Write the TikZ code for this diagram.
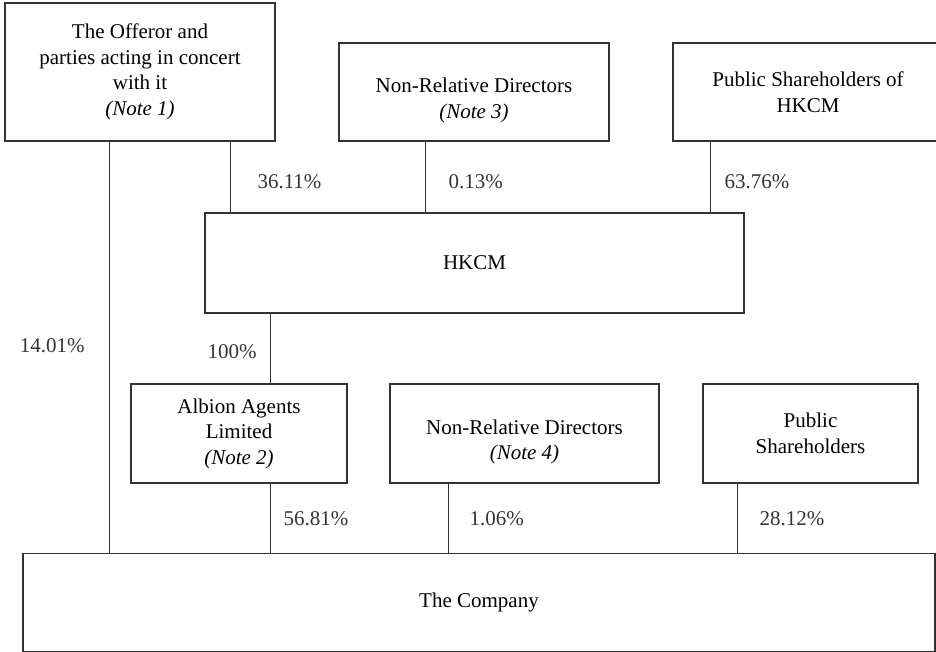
\documentclass[tikz,border=0pt]{standalone}
\usepackage{fontspec}
\setmainfont{Liberation Serif}
\usepackage{tikz}
\usetikzlibrary{positioning}
\colorlet{mydarkgray}{black!80}
\tikzset{
  holder/.style={draw=mydarkgray,line width=1.2pt,rectangle,align=center,inner sep=0pt,
                 font=\fontsize{21}{25.5}\selectfont},
  connect/.style={mydarkgray,line width=1pt},
  pct/.style={inner sep=0pt,font=\fontsize{21}{25.5}\selectfont}
}

\begin{document}
\begin{tikzpicture}[x=1pt,y=-1pt]
\useasboundingbox (0,0) rectangle (936,652);
\clip (0,0) rectangle (936,652);
% top row: shareholders of HKCM
\node[holder,minimum width=270,minimum height=138] (offeror) at (140,72)
  {The Offeror and\\parties acting in concert\\with it\\\textit{(Note 1)}};
\node[holder,minimum width=270,minimum height=98] (nrdhk) at (474,92) {};
\node[pct,align=center,below=-14pt of nrdhk.center] (nrdhk-text)
  {Non-Relative Directors\\\textit{(Note 3)}};
\node[holder,minimum width=270,minimum height=98] (pubhk) at (808,92)
  {Public Shareholders of\\HKCM};
% middle
\node[holder,minimum width=539,minimum height=100] (hkcm) at (474.5,263) {HKCM};
% second row: shareholders of the company
\node[holder,minimum width=216,minimum height=99] (albion) at (239,433.5)
  {Albion Agents\\Limited\\\textit{(Note 2)}};
\node[holder,minimum width=269,minimum height=99] (nrdco) at (524.5,433.5) {};
\node[pct,align=center,below=-14pt of nrdco.center] (nrdco-text)
  {Non-Relative Directors\\\textit{(Note 4)}};
\node[holder,minimum width=215,minimum height=99] (pubco) at (810.5,433.5)
  {Public\\Shareholders};
% bottom
\node[holder,minimum width=912,minimum height=98] (company) at (479,602.5) {The Company};
%
\draw[connect] (offeror.south -| 109,0) -- node[pct,left=24pt,pos=.495] {14.01\%} (company.north -| 109,0);
\draw[connect] (offeror.south -| 230,0) -- node[pct,right=27pt,pos=.57] {36.11\%} (hkcm.north -| 230,0);
\draw[connect] (nrdhk.south -| 425,0) -- node[pct,right=23pt,pos=.57] {0.13\%} (hkcm.north -| 425,0);
\draw[connect] (pubhk.south -| 710,0) -- node[pct,right=14pt,pos=.57] {63.76\%} (hkcm.north -| 710,0);
\draw[connect] (hkcm.south -| 270,0) -- node[pct,left=13pt,pos=.55] {100\%} (albion.north -| 270,0);
\draw[connect] (albion.south -| 270,0) -- node[pct,right=13pt] {56.81\%} (company.north -| 270,0);
\draw[connect] (nrdco.south -| 448,0) -- node[pct,right=21pt] {1.06\%} (company.north -| 448,0);
\draw[connect] (pubco.south -| 737,0) -- node[pct,right=22pt] {28.12\%} (company.north -| 737,0);
\end{tikzpicture}
\end{document}
